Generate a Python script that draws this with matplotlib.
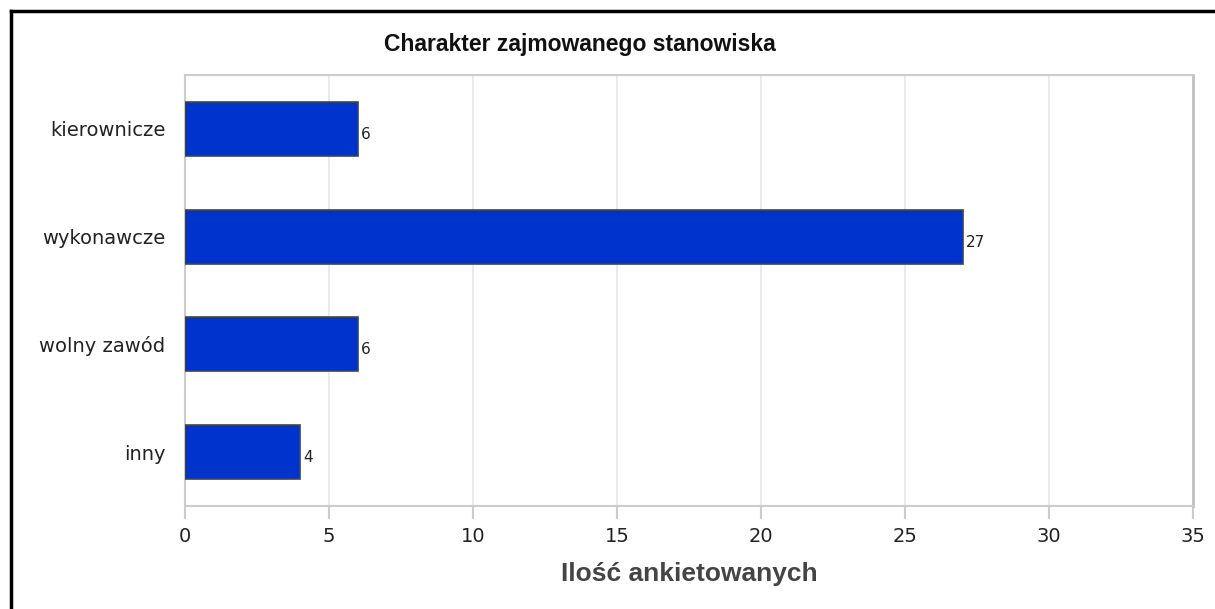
import matplotlib.pyplot as plt
from matplotlib.lines import Line2D

categories = ['kierownicze', 'wykonawcze', 'wolny zawód', 'inny']
values = [6, 27, 6, 4]
xticks = [0, 5, 10, 15, 20, 25, 30, 35]

plt.rcParams['font.family'] = ['DejaVu Sans']
plt.rcParams['font.sans-serif'] = ['DejaVu Sans']

fig = plt.figure(figsize=(12.15, 6.09), dpi=100)
ax = fig.add_axes([185 / 1215, 1 - 506 / 609, 1008 / 1215, 431 / 609])

ypos = list(range(len(categories)))
ax.barh(ypos, values, height=0.5, color='#0033cc', edgecolor='#444444', linewidth=1.2, zorder=3)
for y, v in zip(ypos, values):
    ax.text(v + 0.12, y + 0.05, str(v), va='center', ha='left', fontsize=11,
            family='DejaVu Sans', color='#222222')

ax.set_xlim(0, 35)
ax.set_ylim(len(categories) - 0.5, -0.5)
ax.set_xticks(xticks)
ax.set_yticks(ypos)
ax.set_yticklabels(categories, family='DejaVu Sans')
ax.set_xticklabels([str(t) for t in xticks], family='DejaVu Sans')
ax.tick_params(axis='y', length=0, pad=14, labelsize=14, labelcolor='#222222')
ax.tick_params(axis='x', length=9, width=1.5, color='#cccccc', pad=6, labelsize=14, labelcolor='#222222')
ax.grid(axis='x', color='#e6e6e6', linewidth=1.2, zorder=0)

for side in ['top', 'left', 'bottom']:
    ax.spines[side].set_color('#cccccc')
    ax.spines[side].set_linewidth(1.5)
ax.spines['right'].set_color('#c0c0c0')
ax.spines['right'].set_linewidth(2)

fig.text(580 / 1215, 1 - 44 / 609, 'Charakter zajmowanego stanowiska',
         ha='center', va='center', fontsize=16.5, fontweight='bold', family='Liberation Sans', color='#111111')
fig.text(689 / 1215, 1 - 574 / 609, 'Ilość ankietowanych',
         ha='center', va='center', fontsize=19, fontweight='bold', family='Liberation Sans', color='#444444')

# black frame on top and left edge
fig.add_artist(Line2D([11 / 1215, 11 / 1215], [0, 1 - 11 / 609], color='black', linewidth=2.5, transform=fig.transFigure))
fig.add_artist(Line2D([11 / 1215, 1], [1 - 11 / 609, 1 - 11 / 609], color='black', linewidth=2.5, transform=fig.transFigure))

fig.savefig('out.png', dpi=100)
